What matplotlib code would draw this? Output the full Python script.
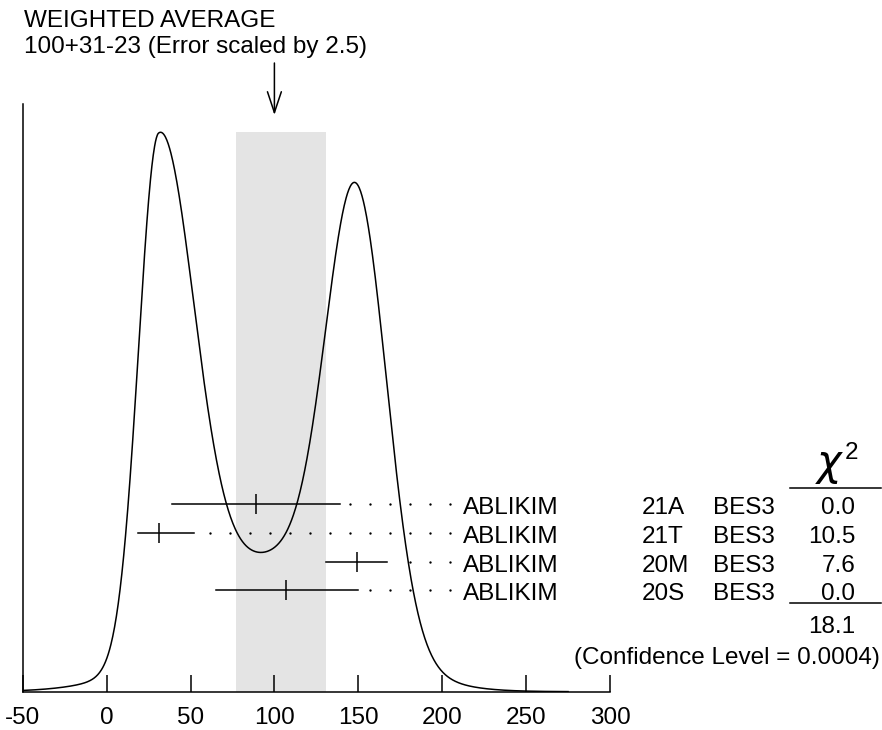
import numpy as np
import matplotlib.pyplot as plt

# measurements (all BES3)
values = [89, 31, 149, 107]
err_minus = [50, 12, 18, 42]
err_plus = [50, 21, 18, 43]
authors = ['ABLIKIM', 'ABLIKIM', 'ABLIKIM', 'ABLIKIM']
docids = ['21A', '21T', '20M', '20S']
techs = ['BES3', 'BES3', 'BES3', 'BES3']
chi2 = [0.0, 10.5, 7.6, 0.0]
chi2_total = 18.1
conf_level = 0.0004

# weighted average
wavg = 100
wavg_plus = 31
wavg_minus = 23
scale_factor = 2.5

xticks = [-50, 0, 50, 100, 150, 200, 250, 300]
xtick_labels = ['-50', '0', '50', '100', '150', '200', '250', '300']

plt.rcParams['font.family'] = ['Liberation Sans', 'DejaVu Sans']
plt.rcParams['font.size'] = 17.5

W, H = 882, 730
fig = plt.figure(figsize=(W / 100, H / 100), dpi=100)

# axes box in pixels (from top-left)
px0, px1, pytop, pybot = 22.7, 610.0, 104.3, 691.7
ax = fig.add_axes([px0 / W, (H - pybot) / H, (px1 - px0) / W, (pybot - pytop) / H])
ytop = 1.05
ax.set_xlim(-50, 300)
ax.set_ylim(0, ytop)
upp = ytop / (pybot - pytop)       # data units per pixel (y)
xpp = 350 / (px1 - px0)            # data units per pixel (x)

def xdat(px):
    return -50 + (px - px0) * xpp

def ydat(py):
    return (pybot - py) * upp

# ideogram: sum of (asymmetric) gaussians, area ~ 1/err
x = np.linspace(-50, 275, 1200)
ideo = np.zeros_like(x)
for v, lo, hi in zip(values, err_minus, err_plus):
    s = np.where(x < v, lo, hi)
    h = 1.0 / ((lo + hi) / 2.0) ** 2
    ideo += h * np.exp(-0.5 * ((x - v) / s) ** 2)
ideo /= ideo.max()

ax.axvspan(wavg - wavg_minus, wavg + wavg_plus, ymin=0, ymax=1 / ytop,
           color='#e4e4e4', lw=0, zorder=0)
ax.plot(x, ideo, color='black', lw=1.1, zorder=3)

# measurement rows
row0 = ydat(504.3)
row_step = 28.7 * upp
dot_end = xdat(450)
dot_step = 11.9
for i in range(len(values)):
    y = row0 - i * row_step
    lo = values[i] - err_minus[i]
    hi = values[i] + err_plus[i]
    ax.plot([lo, hi], [y, y], color='black', lw=1.1, zorder=4)
    ax.plot([values[i]], [y], marker='|', ms=14.5, mew=1.1, color='black', zorder=4)
    dots = dot_end - dot_step * np.arange(0, 30)
    dots = dots[dots > hi + 6]
    ax.plot(dots, np.full(len(dots), y), ls='none', marker='o', ms=1.7,
            color='black', mew=0, zorder=4)
    yb = y - 10 * upp
    ax.text(xdat(463.3), yb, authors[i], va='baseline', ha='left')
    ax.text(xdat(641.7), yb, docids[i], va='baseline', ha='left')
    ax.text(xdat(713.3), yb, techs[i], va='baseline', ha='left')
    ax.text(xdat(855), yb, '%.1f' % chi2[i], va='baseline', ha='right')

# chi2 header and rules
ax.text(xdat(830), ydat(475), r'$\chi$', va='baseline', ha='center', fontsize=30)
ax.text(xdat(845), ydat(459), '2', va='baseline', ha='left')
ax.plot([xdat(790), xdat(881)], [ydat(488.3)] * 2, color='black', lw=1.1, clip_on=False)
ax.plot([xdat(790), xdat(881)], [ydat(603.3)] * 2, color='black', lw=1.1, clip_on=False)
ax.text(xdat(855), ydat(633.3), '%.1f' % chi2_total, va='baseline', ha='right')
ax.text(xdat(880), ydat(664), '(Confidence Level = %.4f)' % conf_level,
        va='baseline', ha='right')

# title and arrow
fig.text(24 / W, (H - 26.7) / H, 'WEIGHTED AVERAGE', va='baseline', ha='left')
fig.text(24 / W, (H - 53.3) / H,
         '%d+%d-%d (Error scaled by %.1f)' % (wavg, wavg_plus, wavg_minus, scale_factor),
         va='baseline', ha='left')
ax.annotate('', xy=(wavg, ydat(115)), xytext=(wavg, ydat(63)), annotation_clip=False,
            arrowprops=dict(arrowstyle='->,head_length=0.75,head_width=0.25',
                            color='black', lw=1.1, mutation_scale=20,
                            shrinkA=0, shrinkB=0))

ax.spines['top'].set_visible(False)
ax.spines['right'].set_visible(False)
ax.spines['left'].set_linewidth(1.1)
ax.spines['bottom'].set_linewidth(1.1)
ax.set_yticks([])
ax.set_xticks(xticks)
ax.set_xticklabels(xtick_labels)
ax.tick_params(axis='x', direction='in', length=12.2, width=1.1, pad=11)

fig.savefig('out.png', dpi=100)
